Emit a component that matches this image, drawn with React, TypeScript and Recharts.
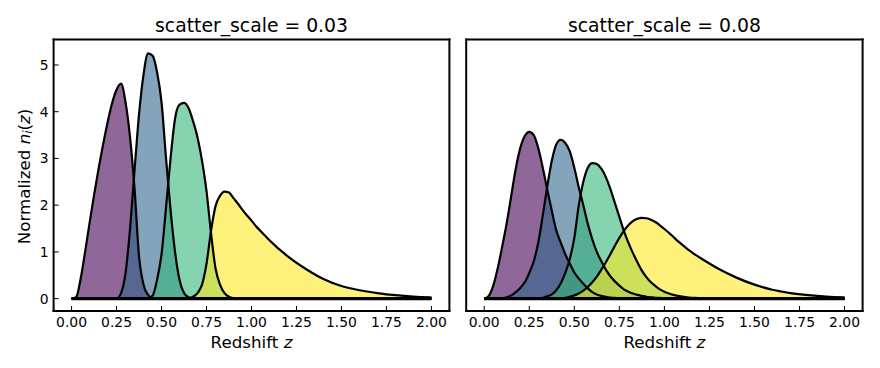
import React from "react";
import { ComposedChart, Area, Line, XAxis, YAxis } from "recharts";

// redshift grid (finer where the bins are sharp)
const zGrid = [
  0, 0.025, 0.05, 0.075, 0.1, 0.125, 0.15, 0.175, 0.2, 0.225,
  0.25, 0.275, 0.3, 0.325, 0.35, 0.375, 0.4, 0.425, 0.45, 0.475,
  0.5, 0.525, 0.55, 0.575, 0.6, 0.625, 0.65, 0.675, 0.7, 0.725,
  0.75, 0.775, 0.8, 0.825, 0.85, 0.875, 0.9, 0.925, 0.95, 0.975,
  1.0, 1.025, 1.05, 1.075, 1.1, 1.125, 1.15, 1.175, 1.2,
  1.3, 1.4, 1.5, 1.6, 1.7, 1.8, 1.9, 2.0,
];

// scatter_scale = 0.03
const bin1Low = [
  0, 0.03, 0.42, 1.0, 1.62, 2.22, 2.78, 3.3, 3.77, 4.18,
  4.47, 4.6, 4.2, 3.45, 2.35, 0.9, 0.3, 0.08, 0.01, 0,
  0, 0, 0, 0, 0, 0, 0, 0, 0, 0,
  0, 0, 0, 0, 0, 0, 0, 0, 0, 0,
  0, 0, 0, 0, 0, 0, 0, 0, 0,
  0, 0, 0, 0, 0, 0, 0, 0,
];
const bin2Low = [
  0, 0, 0, 0, 0, 0, 0, 0, 0, 0,
  0, 0.12, 0.55, 1.5, 2.75, 3.95, 4.8, 5.25, 5.2, 4.85,
  4.2, 3.0, 1.9, 1.0, 0.4, 0.12, 0.03, 0, 0, 0,
  0, 0, 0, 0, 0, 0, 0, 0, 0, 0,
  0, 0, 0, 0, 0, 0, 0, 0, 0,
  0, 0, 0, 0, 0, 0, 0, 0,
];
const bin3Low = [
  0, 0, 0, 0, 0, 0, 0, 0, 0, 0,
  0, 0, 0, 0, 0, 0, 0, 0.01, 0.06, 0.4,
  0.95, 1.95, 3.0, 3.85, 4.15, 4.19, 4.08, 3.8, 3.45, 2.95,
  2.3, 1.4, 0.65, 0.3, 0.12, 0.04, 0.01, 0, 0, 0,
  0, 0, 0, 0, 0, 0, 0, 0, 0,
  0, 0, 0, 0, 0, 0, 0, 0,
];
const bin4Low = [
  0, 0, 0, 0, 0, 0, 0, 0, 0, 0,
  0, 0, 0, 0, 0, 0, 0, 0, 0, 0,
  0, 0, 0, 0, 0, 0, 0.01, 0.04, 0.12, 0.3,
  0.75, 1.45, 1.98, 2.2, 2.29, 2.27, 2.15, 2.03, 1.9, 1.78,
  1.67, 1.55, 1.45, 1.35, 1.25, 1.16, 1.07, 0.99, 0.91,
  0.64, 0.42, 0.27, 0.18, 0.12, 0.075, 0.045, 0.028,
];

// scatter_scale = 0.08
const bin1High = [
  0, 0.06, 0.28, 0.65, 1.12, 1.62, 2.2, 2.78, 3.22, 3.48,
  3.57, 3.5, 3.22, 2.8, 2.33, 1.88, 1.46, 1.2, 0.95, 0.75,
  0.56, 0.43, 0.32, 0.22, 0.14, 0.09, 0.06, 0.04, 0.025, 0.015,
  0.01, 0.005, 0, 0, 0, 0, 0, 0, 0, 0,
  0, 0, 0, 0, 0, 0, 0, 0, 0,
  0, 0, 0, 0, 0, 0, 0, 0,
];
const bin2High = [
  0, 0, 0, 0, 0.01, 0.03, 0.07, 0.14, 0.23, 0.35,
  0.55, 0.8, 1.2, 1.78, 2.4, 2.95, 3.3, 3.4, 3.33, 3.15,
  2.8, 2.38, 2.0, 1.6, 1.27, 1.0, 0.8, 0.62, 0.48, 0.37,
  0.28, 0.2, 0.15, 0.11, 0.08, 0.06, 0.04, 0.03, 0.02, 0.015,
  0.01, 0.005, 0, 0, 0, 0, 0, 0, 0,
  0, 0, 0, 0, 0, 0, 0, 0,
];
const bin3High = [
  0, 0, 0, 0, 0, 0, 0, 0, 0, 0,
  0, 0, 0.01, 0.02, 0.05, 0.09, 0.18, 0.33, 0.55, 0.85,
  1.3, 2.0, 2.5, 2.8, 2.9, 2.88, 2.78, 2.6, 2.35, 2.05,
  1.75, 1.45, 1.2, 0.98, 0.78, 0.6, 0.46, 0.35, 0.27, 0.2,
  0.15, 0.11, 0.08, 0.06, 0.045, 0.03, 0.02, 0.015, 0.01,
  0, 0, 0, 0, 0, 0, 0, 0,
];
const bin4High = [
  0, 0, 0, 0, 0, 0, 0, 0, 0, 0,
  0, 0, 0, 0, 0, 0, 0, 0.01, 0.02, 0.04,
  0.07, 0.11, 0.17, 0.25, 0.35, 0.47, 0.62, 0.78, 0.95, 1.13,
  1.3, 1.45, 1.57, 1.66, 1.71, 1.73, 1.72, 1.69, 1.64, 1.57,
  1.49, 1.41, 1.32, 1.23, 1.15, 1.07, 1.0, 0.93, 0.87,
  0.64, 0.45, 0.3, 0.19, 0.12, 0.075, 0.045, 0.028,
];

const xTicks = [0, 0.25, 0.5, 0.75, 1, 1.25, 1.5, 1.75, 2];
const yTicks = [0, 1, 2, 3, 4, 5];
const binColors = ["#440154", "#31688e", "#35b779", "#fde725"];
const binKeys = ["b1", "b2", "b3", "b4"];

const FONT = "DejaVu Sans";
const W = 880;
const H = 368;
const PLOT_TOP = 39.5;
const PLOT_BOTTOM = 311;
const X_DOMAIN = [-0.1, 2.1];
const Y_DOMAIN = [-0.264, 5.545];

const frame = { stroke: "#000", strokeWidth: 2, strokeLinecap: "square" as const };
const tickLine = { stroke: "#000", strokeWidth: 1 };
const tickText = { fill: "#000", fontSize: 13.9, fontFamily: FONT };

function Panel({ bins, left, right, yLabels }: { bins: number[][]; left: number; right: number; yLabels: boolean }) {
  const rows = zGrid.map((z, i) => ({
    z,
    zero: 0,
    b1: bins[0][i],
    b2: bins[1][i],
    b3: bins[2][i],
    b4: bins[3][i],
  }));

  return (
    <div style={{ position: "absolute", left: 0, top: 0 }}>
      <ComposedChart
        width={W}
        height={H}
        data={rows}
        margin={{ top: PLOT_TOP - 1, bottom: H - PLOT_BOTTOM - 30, left: left - 40, right: W - right - 1 }}
      >
        <XAxis
          dataKey="z"
          type="number"
          domain={X_DOMAIN}
          allowDataOverflow
          ticks={xTicks}
          interval={0}
          tickFormatter={(v: number) => v.toFixed(2)}
          height={30}
          tickSize={-5}
          tickMargin={10.8}
          axisLine={frame}
          tickLine={tickLine}
          tick={tickText}
        />
        <XAxis
          xAxisId="top"
          orientation="top"
          dataKey="z"
          type="number"
          domain={X_DOMAIN}
          allowDataOverflow
          ticks={xTicks}
          interval={0}
          height={1}
          tickSize={-5}
          axisLine={frame}
          tickLine={tickLine}
          tick={false}
        />
        <YAxis
          type="number"
          domain={Y_DOMAIN}
          allowDataOverflow
          ticks={yTicks}
          interval={0}
          width={40}
          tickSize={-5}
          tickMargin={10}
          axisLine={frame}
          tickLine={tickLine}
          tick={yLabels ? tickText : false}
        />
        <YAxis
          yAxisId="right"
          orientation="right"
          type="number"
          domain={Y_DOMAIN}
          allowDataOverflow
          ticks={yTicks}
          interval={0}
          width={1}
          tickSize={-5}
          axisLine={frame}
          tickLine={tickLine}
          tick={false}
        />
        {binKeys.map((k, i) => (
          <Area
            key={"a" + k}
            type="monotone"
            dataKey={k}
            baseValue={0}
            fill={binColors[i]}
            fillOpacity={0.6}
            stroke="none"
            activeDot={false}
            isAnimationActive={false}
          />
        ))}
        <Line
          type="linear"
          dataKey="zero"
          stroke="#000"
          strokeWidth={3.2}
          dot={false}
          activeDot={false}
          isAnimationActive={false}
        />
        {binKeys.map((k) => (
          <Line
            key={"l" + k}
            type="monotone"
            dataKey={k}
            stroke="#000"
            strokeWidth={2.2}
            strokeLinejoin="round"
            dot={false}
            activeDot={false}
            isAnimationActive={false}
          />
        ))}
      </ComposedChart>
    </div>
  );
}

export default function App() {
  return (
    <div style={{ position: "absolute", left: 0, top: 0, width: W, height: H, background: "#fff" }}>
      <Panel bins={[bin1Low, bin2Low, bin3Low, bin4Low]} left={53.6} right={449.4} yLabels />
      <Panel bins={[bin1High, bin2High, bin3High, bin4High]} left={466.2} right={862.6} yLabels={false} />
      <svg width={W} height={H} style={{ position: "absolute", left: 0, top: 0, pointerEvents: "none" }} fontFamily={FONT}>
        <text x={251.5} y={32} textAnchor="middle" fontSize={18.8}>scatter_scale = 0.03</text>
        <text x={664.4} y={32} textAnchor="middle" fontSize={18.8}>scatter_scale = 0.08</text>
        <text x={251.5} y={348} textAnchor="middle" fontSize={16.7}>
          Redshift <tspan fontStyle="italic">z</tspan>
        </text>
        <text x={664.4} y={348} textAnchor="middle" fontSize={16.7}>
          Redshift <tspan fontStyle="italic">z</tspan>
        </text>
        <text transform="translate(29.5,176.5) rotate(-90)" textAnchor="middle" fontSize={16.7}>
          Normalized <tspan fontStyle="italic">n</tspan>
          <tspan fontStyle="italic" fontSize={11.7} dy={2.6}>i</tspan>
          <tspan dy={-2.6}>(</tspan>
          <tspan fontStyle="italic">z</tspan>
          <tspan>)</tspan>
        </text>
      </svg>
    </div>
  );
}
